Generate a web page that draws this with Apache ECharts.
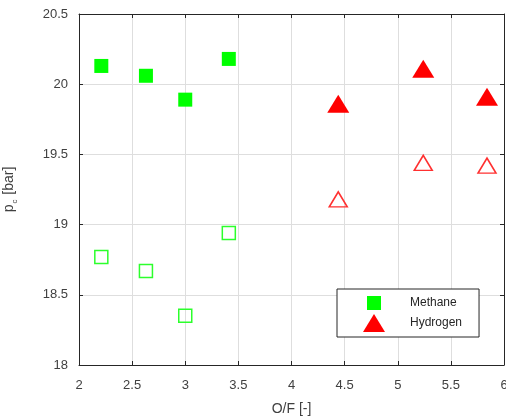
<!DOCTYPE html>
<html>
<head>
<meta charset="utf-8">
<script src="https://cdn.jsdelivr.net/npm/echarts@6/dist/echarts.min.js"></script>
<style>html,body{margin:0;padding:0;background:#fff;}#c{width:506px;height:419px;}</style>
</head>
<body>
<div id="c"></div>
<script>
const ofMethane = [2.21, 2.63, 3.0, 3.41];
const pcMethaneFilled = [20.13, 20.06, 19.89, 20.18];
const pcMethaneOpen = [18.77, 18.67, 18.35, 18.94];
const ofHydrogen = [4.44, 5.24, 5.84];
const pcHydrogenFilled = [19.86, 20.11, 19.91];
const pcHydrogenOpen = [19.18, 19.44, 19.42];
const seriesNames = ['Methane', 'Hydrogen'];

const pairs = (xs, ys) => xs.map((x, i) => [x, ys[i]]);
const FONT = "'Liberation Sans', Arial, sans-serif";
const axisColor = '#262626';
const gridColor = '#dedede';

const chart = echarts.init(document.getElementById('c'), null, {renderer: 'canvas'});
const baseX = {
  type: 'value', min: 2, max: 6, interval: 0.5,
  axisLine: {show: true, lineStyle: {color: axisColor, width: 1}},
  axisTick: {show: true, inside: true, length: 4, lineStyle: {color: axisColor}},
  splitLine: {show: false}
};
const baseY = {
  type: 'value', min: 18, max: 20.5, interval: 0.5,
  axisLine: {show: true, lineStyle: {color: axisColor, width: 1}},
  axisTick: {show: true, inside: true, length: 4, lineStyle: {color: axisColor}},
  splitLine: {show: false}
};
chart.setOption({
  animation: false,
  backgroundColor: '#fff',
  grid: {left: 79, right: 2, top: 14, bottom: 54, containLabel: false, outerBoundsMode: 'none'},
  xAxis: [
    Object.assign({}, baseX, {
      position: 'bottom',
      name: 'O/F [-]', nameLocation: 'middle', nameGap: 37,
      nameTextStyle: {fontFamily: FONT, fontSize: 14, color: '#404040'},
      axisLabel: {fontFamily: FONT, fontSize: 13, color: '#404040', margin: 14},
      splitLine: {show: true, lineStyle: {color: gridColor, width: 1}}
    }),
    Object.assign({}, baseX, {position: 'top', axisLabel: {show: false}})
  ],
  yAxis: [
    Object.assign({}, baseY, {
      position: 'left',
      name: '{p|p}{s|c}{b| [bar]}', nameLocation: 'middle', nameGap: 60, nameRotate: 90,
      nameTextStyle: {
        fontFamily: FONT, fontSize: 14, color: '#404040',
        rich: {
          p: {fontFamily: FONT, fontSize: 14, color: '#404040', lineHeight: 20},
          s: {fontFamily: FONT, fontSize: 8, color: '#404040', verticalAlign: 'bottom', lineHeight: 20, padding: [9, 1, 0, 1]},
          b: {fontFamily: FONT, fontSize: 14, color: '#404040', lineHeight: 20}
        }
      },
      axisLabel: {fontFamily: FONT, fontSize: 13, color: '#404040', margin: 11},
      splitLine: {show: true, lineStyle: {color: gridColor, width: 1}}
    }),
    Object.assign({}, baseY, {position: 'right', axisLabel: {show: false}})
  ],
  legend: {
    orient: 'vertical', left: 337, top: 289,
    padding: [5, 17, 5, 26],
    itemWidth: 22, itemHeight: 18, itemGap: 2,
    borderColor: axisColor, borderWidth: 1, backgroundColor: '#fff',
    textStyle: {fontFamily: FONT, fontSize: 12, color: '#262626', padding: [0, 0, 0, 20]},
    data: [
      {name: seriesNames[0], icon: 'path://M0,0 M22,18 M4,2 L18,2 L18,16 L4,16 Z'},
      {name: seriesNames[1], icon: 'path://M11,0 L22,18 L0,18 Z'}
    ]
  },
  series: [
    {
      name: seriesNames[0], type: 'scatter', xAxisIndex: 0, yAxisIndex: 0,
      symbol: 'rect', symbolSize: 14,
      itemStyle: {color: '#00ff00', opacity: 1},
      data: pairs(ofMethane, pcMethaneFilled), z: 3
    },
    {
      name: 'Methane (open)', type: 'scatter', xAxisIndex: 0, yAxisIndex: 0,
      symbol: 'rect', symbolSize: 13,
      itemStyle: {color: 'rgba(255,255,255,0)', borderColor: '#2cff2c', borderWidth: 1.5, opacity: 1},
      data: pairs(ofMethane, pcMethaneOpen), z: 3
    },
    {
      name: seriesNames[1], type: 'scatter', xAxisIndex: 0, yAxisIndex: 0,
      symbol: 'triangle', symbolSize: [22, 18],
      itemStyle: {color: '#ff0000', opacity: 1},
      data: pairs(ofHydrogen, pcHydrogenFilled), z: 3
    },
    {
      name: 'Hydrogen (open)', type: 'scatter', xAxisIndex: 0, yAxisIndex: 0,
      symbol: 'triangle', symbolSize: [18, 15],
      itemStyle: {color: 'rgba(255,255,255,0)', borderColor: '#ff3030', borderWidth: 1.5, opacity: 1},
      data: pairs(ofHydrogen, pcHydrogenOpen), z: 3
    }
  ]
});
</script>
</body>
</html>
